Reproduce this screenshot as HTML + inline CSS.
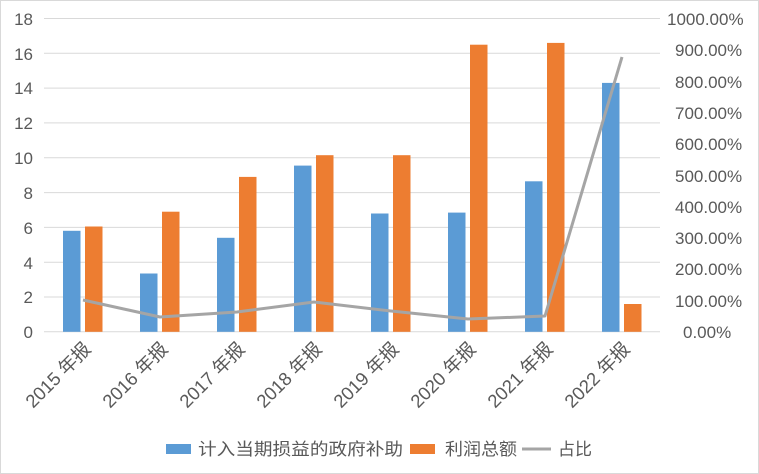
<!DOCTYPE html>
<html><head><meta charset="utf-8"><style>
body{margin:0;background:#fff}
svg{display:block;font-family:"Liberation Sans","Noto Sans CJK SC",sans-serif}
</style></head><body>
<svg width="759" height="474" viewBox="0 0 759 474">
<rect x="0.5" y="0.5" width="758" height="473" fill="#fff" stroke="#d9d9d9"/>
<g stroke="#d9d9d9" stroke-width="1">
<line x1="44" x2="660" y1="18.5" y2="18.5"/>
<line x1="44" x2="660" y1="53.3" y2="53.3"/>
<line x1="44" x2="660" y1="88.1" y2="88.1"/>
<line x1="44" x2="660" y1="122.9" y2="122.9"/>
<line x1="44" x2="660" y1="157.7" y2="157.7"/>
<line x1="44" x2="660" y1="192.6" y2="192.6"/>
<line x1="44" x2="660" y1="227.4" y2="227.4"/>
<line x1="44" x2="660" y1="262.2" y2="262.2"/>
<line x1="44" x2="660" y1="297" y2="297"/>
<line x1="44" x2="660" y1="331.8" y2="331.8"/>
</g>
<g font-size="17" fill="#595959" text-anchor="end">
<text x="33" y="25">18</text><text x="33" y="60">16</text><text x="33" y="94">14</text><text x="33" y="129">12</text><text x="33" y="164">10</text><text x="33" y="199">8</text><text x="33" y="234">6</text><text x="33" y="269">4</text><text x="33" y="303">2</text><text x="33" y="338">0</text>
</g>
<g font-size="17" fill="#595959" text-anchor="start">
<text x="667" y="25">1000.00%</text><text x="675" y="56">900.00%</text><text x="675" y="88">800.00%</text><text x="675" y="119">700.00%</text><text x="675" y="150">600.00%</text><text x="675" y="182">500.00%</text><text x="675" y="213">400.00%</text><text x="675" y="244">300.00%</text><text x="675" y="275">200.00%</text><text x="675" y="307">100.00%</text><text x="683" y="338">0.00%</text>
</g>
<g fill="#5b9bd5">
<rect x="63" y="230.8" width="17.5" height="101"/>
<rect x="140" y="273.5" width="17.5" height="58.3"/>
<rect x="217" y="237.8" width="17.5" height="94"/>
<rect x="294" y="165.6" width="17.5" height="166.2"/>
<rect x="371" y="213.5" width="17.5" height="118.3"/>
<rect x="448" y="212.6" width="17.5" height="119.2"/>
<rect x="525" y="181.3" width="17.5" height="150.5"/>
<rect x="602" y="82.9" width="17.5" height="248.9"/>
</g>
<g fill="#ed7d31">
<rect x="85" y="226.5" width="17.5" height="105.3"/>
<rect x="162" y="211.7" width="17.5" height="120.1"/>
<rect x="239" y="176.9" width="17.5" height="154.9"/>
<rect x="316" y="155.2" width="17.5" height="176.6"/>
<rect x="393" y="155.2" width="17.5" height="176.6"/>
<rect x="470" y="44.7" width="17.5" height="287.1"/>
<rect x="547" y="42.9" width="17.5" height="288.9"/>
<rect x="624" y="304" width="17.5" height="27.8"/>
</g>
<polyline fill="none" stroke="#a5a5a5" stroke-width="3" stroke-linejoin="round" points="83,300 160,317 237,312 314,302 391,311 468,319 545,316 622,57"/>
<g font-size="18.5" fill="#595959" text-anchor="end">
<text transform="translate(92,350) rotate(-45)">2015 年报</text>
<text transform="translate(169,350) rotate(-45)">2016 年报</text>
<text transform="translate(246,350) rotate(-45)">2017 年报</text>
<text transform="translate(323,350) rotate(-45)">2018 年报</text>
<text transform="translate(400,350) rotate(-45)">2019 年报</text>
<text transform="translate(477,350) rotate(-45)">2020 年报</text>
<text transform="translate(554,350) rotate(-45)">2021 年报</text>
<text transform="translate(631,350) rotate(-45)">2022 年报</text>
</g>
<rect x="166" y="444" width="25" height="10" fill="#5b9bd5"/>
<rect x="410" y="444" width="25" height="10" fill="#ed7d31"/>
<line x1="522" x2="551" y1="449" y2="449" stroke="#a5a5a5" stroke-width="3"/>
<g font-size="17" fill="#595959">
<text x="198" y="455" textLength="205" lengthAdjust="spacingAndGlyphs">计入当期损益的政府补助</text>
<text x="445" y="455" textLength="72" lengthAdjust="spacingAndGlyphs">利润总额</text>
<text x="558" y="455" textLength="34" lengthAdjust="spacingAndGlyphs">占比</text>
</g>
</svg>
</body></html>
